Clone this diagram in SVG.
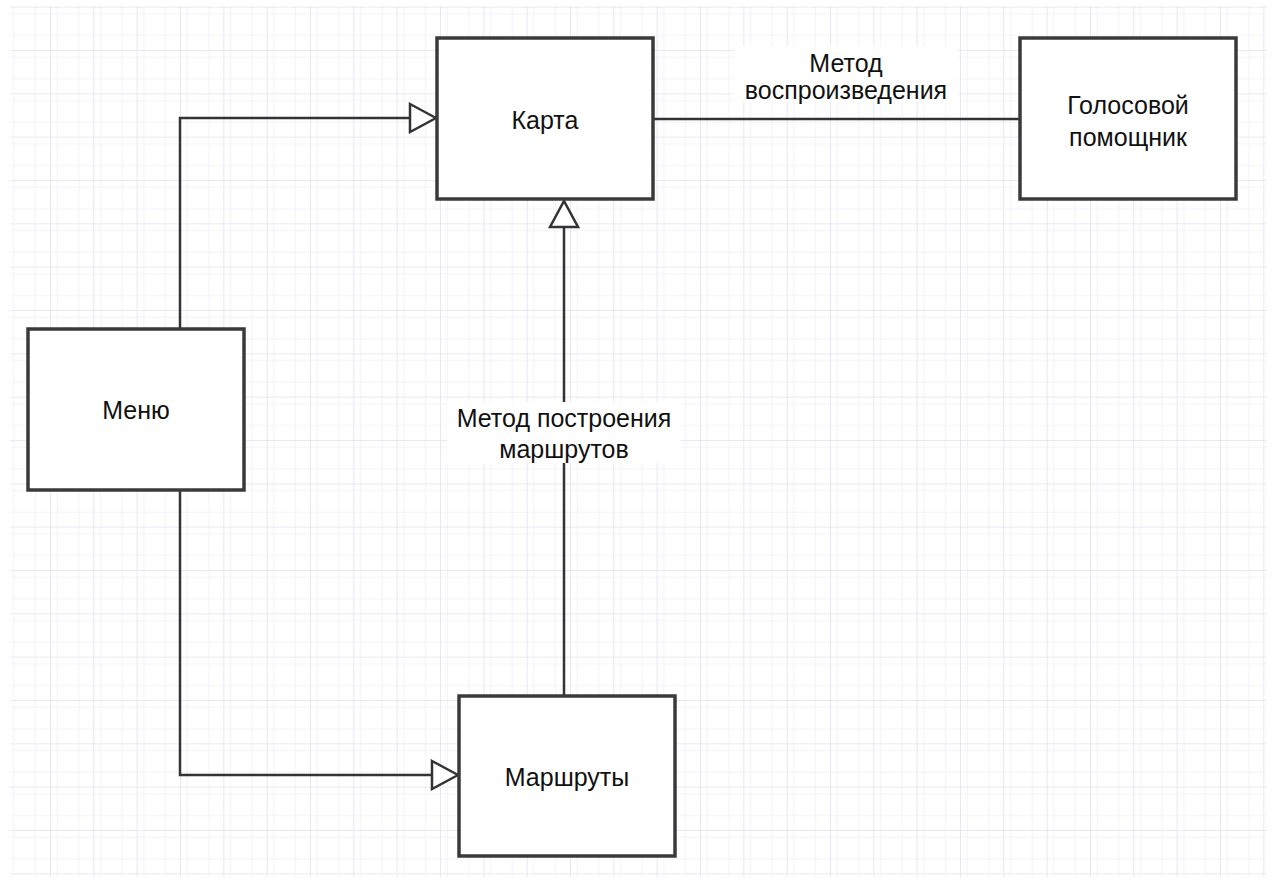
<svg xmlns="http://www.w3.org/2000/svg" width="1274" height="885" viewBox="0 0 1274 885">
  <style>
    .node rect { fill: #ffffff; stroke: #3a3a3a; stroke-width: 3.5; }
    .node text, .label text { font-family: "Liberation Sans", Arial, sans-serif; font-size: 25px; fill: #111111; text-anchor: middle; dominant-baseline: central; }
    .edge { fill: none; stroke: #333333; stroke-width: 2.5; }
    .labelbg { fill: #ffffff; }
  </style>
  <defs>
    <pattern id="minor" x="6.67" y="6.67" width="21.667" height="21.667" patternUnits="userSpaceOnUse">
      <path d="M 0 0 L 21.667 0 M 0 0 L 0 21.667" fill="none" stroke="#eeeef7" stroke-width="1.5"/>
    </pattern>
    <pattern id="major" x="6.67" y="6.67" width="43.333" height="43.333" patternUnits="userSpaceOnUse">
      <rect width="43.333" height="43.333" fill="url(#minor)"/>
      <path d="M 0 0 L 43.333 0 M 0 0 L 0 43.333" fill="none" stroke="#e2e2f0" stroke-width="1.6"/>
    </pattern>
    <marker id="tri" viewBox="0 0 30 32" refX="28" refY="16" markerWidth="30" markerHeight="32" markerUnits="userSpaceOnUse" orient="auto">
      <path d="M 2 2 L 28 16 L 2 30 Z" fill="#ffffff" stroke="#333333" stroke-width="2.5" stroke-linejoin="miter"/>
    </marker>
  </defs>

  <rect x="0" y="0" width="1274" height="885" fill="#ffffff"/>
  <rect x="10" y="6" width="1257" height="871" fill="url(#major)"/>

  <g id="connectors">
    <path class="edge" d="M 180 329 L 180 118 L 436 118" marker-end="url(#tri)"/>
    <path class="edge" d="M 180 490 L 180 775 L 458 775" marker-end="url(#tri)"/>
    <path class="edge" d="M 564 695 L 564 201" marker-end="url(#tri)"/>
    <path class="edge" d="M 653 119 L 1020 119"/>
    <g class="label">
      <rect class="labelbg" x="447" y="402" width="234" height="61"/>
      <text x="564" y="418">Метод построения</text>
      <text x="564" y="449">маршрутов</text>
    </g>
    <g class="label">
      <rect class="labelbg" x="734" y="46" width="224" height="56"/>
      <text x="846" y="63">Метод</text>
      <text x="846" y="90">воспроизведения</text>
    </g>
  </g>

  <g id="karta" class="node">
    <rect x="437" y="38" width="216" height="161"/>
    <text x="545" y="120">Карта</text>
  </g>
  <g id="golosovoy" class="node">
    <rect x="1020" y="38" width="216" height="161"/>
    <text x="1128" y="105">Голосовой</text>
    <text x="1128" y="137">помощник</text>
  </g>
  <g id="menu" class="node">
    <rect x="28" y="329" width="216" height="161"/>
    <text x="136" y="410">Меню</text>
  </g>
  <g id="marshruty" class="node">
    <rect x="459" y="696" width="216" height="160"/>
    <text x="567" y="777">Маршруты</text>
  </g>
</svg>
